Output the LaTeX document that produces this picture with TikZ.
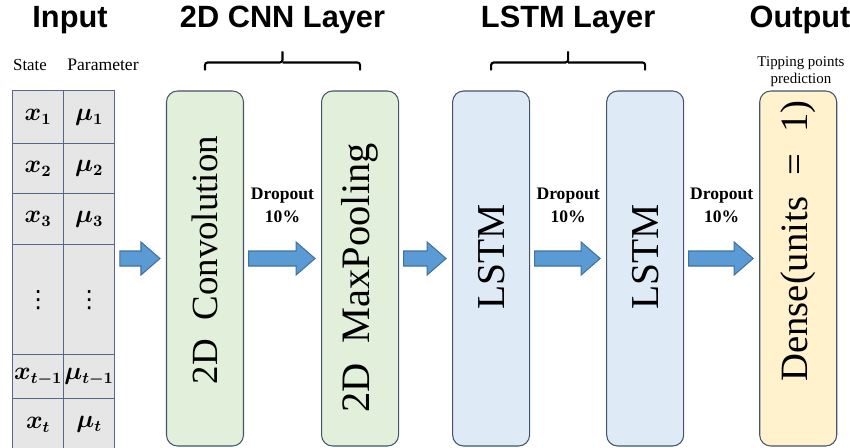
\documentclass[tikz,border=0pt]{standalone}
\usepackage{fontspec}
\usepackage{bm}
\setmainfont{Liberation Serif}
\newfontfamily\headfont{Liberation Sans}
\newfontfamily\dotsfont{DejaVu Sans}
\usetikzlibrary{positioning, calc}

\definecolor{cnngreen}{HTML}{E2EFDA}
\definecolor{lstmblue}{HTML}{DEEAF6}
\definecolor{denseyellow}{HTML}{FFF2CC}
\definecolor{cellgray}{HTML}{E7E6E6}
\definecolor{celledge}{HTML}{56688A}
\definecolor{edgegray}{HTML}{44546A}
\definecolor{arrowblue}{HTML}{5B9BD5}
\definecolor{arrowedge}{HTML}{41719C}

\tikzset{
  layerbox/.style={draw=edgegray, line width=0.6pt, rounded corners=0.22cm,
    minimum width=1.54cm, minimum height=7.1cm},
  layertext/.style={rotate=90, font=\fontsize{#1}{25}\selectfont},
  layertext/.default=21,
  cell/.style={draw=celledge, fill=cellgray, line width=0.8pt, inner sep=0pt,
    minimum width=1.02cm, anchor=north west, font=\fontsize{13.5}{15}\selectfont},
  heading/.style={font=\headfont\bfseries\fontsize{17.5}{20}\selectfont},
  droplbl/.style={align=center, font=\bfseries\fontsize{10}{13}\selectfont},
  bracepath/.style={line width=1.2pt, rounded corners=1.5pt},
  arrowshape/.style={fill=arrowblue, draw=arrowedge, line width=0.6pt}
}

% block arrow between two points
\newcommand{\blockarrow}[2]{%
  \path[arrowshape] let \p1=(#1), \p2=(#2) in
    (\x1+0.09cm,\y1+0.15cm) -- (\x2-0.5cm,\y1+0.15cm) -- (\x2-0.5cm,\y1+0.33cm)
    -- (\x2-0.12cm,\y1) -- (\x2-0.5cm,\y1-0.33cm) -- (\x2-0.5cm,\y1-0.15cm)
    -- (\x1+0.09cm,\y1-0.15cm) -- cycle;}

\begin{document}
\begin{tikzpicture}
\useasboundingbox (0,0) rectangle (17,8.94);
\coordinate (mid) at (0,3.77);
\coordinate (ttl) at (0,8.54);

% input table
\foreach \st/\pa/\ytop/\ybot [count=\i] in {
  {$\bm{x_1}$}/{$\bm{\mu_1}$}/7.14/6.08,
  {$\bm{x_2}$}/{$\bm{\mu_2}$}/6.08/5.08,
  {$\bm{x_3}$}/{$\bm{\mu_3}$}/5.08/4.06,
  {\dotsfont ⋮}/{\dotsfont ⋮}/4.06/1.86,
  {$\bm{x_{t-1}}$}/{$\bm{\mu_{t-1}}$}/1.86/0.98,
  {$\bm{x_t}$}/{$\bm{\mu_t}$}/0.98/-0.06}
{
  \node (s\i) [cell, minimum height={(\ytop-\ybot)*1cm}] at (0.24,\ytop) {\st};
  \node (p\i) [cell, minimum height={(\ytop-\ybot)*1cm}] at (1.26,\ytop) {\pa};
}
\node (statelbl) [font=\fontsize{9.6}{11}\selectfont] at (0.6,7.64) {State};
\node (paramlbl) [font=\fontsize{10}{11}\selectfont] at (2.06,7.64) {Parameter};
\node (intitle) [heading] at (1.4,8.54) {Input};

% layers
\node (conv) [layerbox, fill=cnngreen] at (4.1,3.57) {};
\node (pool) [layerbox, fill=cnngreen, right=1.54cm of conv] {};
\node (lstma) [layerbox, fill=lstmblue, right=1.06cm of pool] {};
\node (lstmb) [layerbox, fill=lstmblue, right=1.52cm of lstma] {};
\node (dense) [layerbox, fill=denseyellow, right=1.5cm of lstmb] {};

\node (convtxt) [layertext] at ([yshift=0.17cm]conv.center) {2D\ \ Convolution};
\node (pooltxt) [layertext=23] at ([yshift=-0.19cm]pool.center) {2D\ \ MaxPooling};
\node (lstmatxt) [layertext=22.5] at ([yshift=0.23cm]lstma.center) {LSTM};
\node (lstmbtxt) [layertext=22.5] at ([yshift=0.23cm]lstmb.center) {LSTM};
\node (densetxt) [layertext=22] at ([yshift=0.55cm]dense.center)
  {Dense(units\hspace{0.3em} = \hspace{0.3em}1)};

% braces and titles
\coordinate (cnnmid) at ($(conv.north)!.5!(pool.north)$);
\coordinate (lstmmid) at ($(lstma.north)!.5!(lstmb.north)$);
\draw[bracepath] ([yshift=0.4cm]conv.north) -- ([yshift=0.56cm]conv.north)
  -- ([yshift=0.56cm]cnnmid) -- ([yshift=0.78cm]cnnmid);
\draw[bracepath] ([yshift=0.4cm]pool.north) -- ([yshift=0.56cm]pool.north)
  -- ([yshift=0.56cm]cnnmid);
\draw[bracepath] ([yshift=0.4cm]lstma.north) -- ([yshift=0.56cm]lstma.north)
  -- ([yshift=0.56cm]lstmmid) -- ([yshift=0.78cm]lstmmid);
\draw[bracepath] ([yshift=0.4cm]lstmb.north) -- ([yshift=0.56cm]lstmb.north)
  -- ([yshift=0.56cm]lstmmid);
\node (cnntitle) [heading] at (cnnmid |- ttl) {2D CNN Layer};
\node (lstmtitle) [heading] at (lstmmid |- ttl) {LSTM Layer};
\node (outtitle) [heading] at (16.0,8.54) {Output};
\node (tiplbl) [align=center, font=\fontsize{8.5}{9.8}\selectfont] at (16.02,7.51)
  {Tipping points\\prediction};

% arrows and dropout
\blockarrow{p4.east |- mid}{conv.west |- mid}
\blockarrow{conv.east |- mid}{pool.west |- mid}
\blockarrow{pool.east |- mid}{lstma.west |- mid}
\blockarrow{lstma.east |- mid}{lstmb.west |- mid}
\blockarrow{lstmb.east |- mid}{dense.west |- mid}
\node (drop1) [droplbl] at ($(conv.east |- mid)!.5!(pool.west |- mid)+(0,1.07)$) {Dropout\\10\%};
\node (drop2) [droplbl] at ($(lstma.east |- mid)!.5!(lstmb.west |- mid)+(0,1.07)$) {Dropout\\10\%};
\node (drop3) [droplbl] at ($(lstmb.east |- mid)!.5!(dense.west |- mid)+(0,1.07)$) {Dropout\\10\%};
\end{tikzpicture}
\end{document}
